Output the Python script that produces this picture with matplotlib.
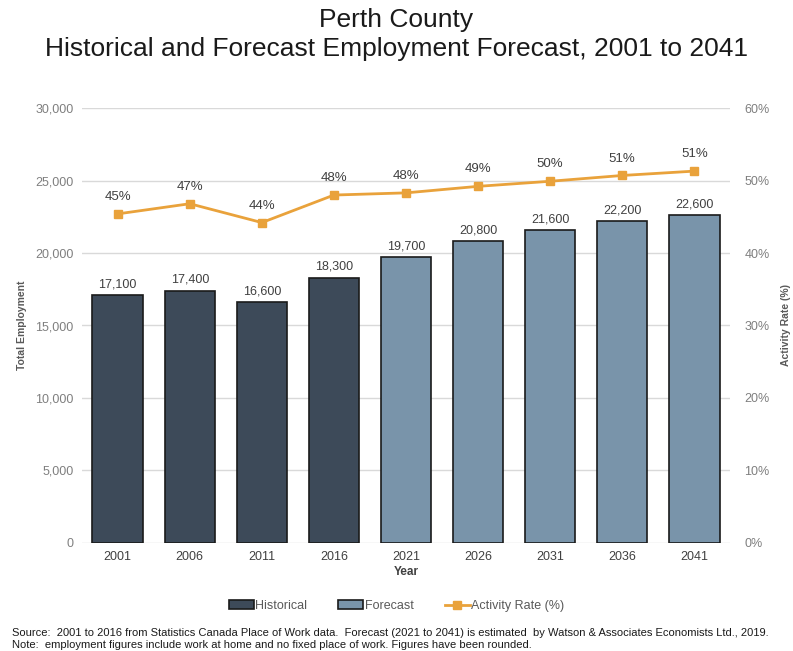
import matplotlib.pyplot as plt
from matplotlib.ticker import FuncFormatter, PercentFormatter
from matplotlib.lines import Line2D
from matplotlib.patches import Patch

plt.rcParams['font.family'] = ['Liberation Sans', 'DejaVu Sans']

# data
years = ['2001', '2006', '2011', '2016', '2021', '2026', '2031', '2036', '2041']
employment = [17100, 17400, 16600, 18300, 19700, 20800, 21600, 22200, 22600]
is_forecast = [False, False, False, False, True, True, True, True, True]
activity_rate = [45.4, 46.8, 44.2, 48.0, 48.3, 49.2, 49.9, 50.7, 51.3]
rate_labels = ['45%', '47%', '44%', '48%', '48%', '49%', '50%', '51%', '51%']

HIST = '#3d4a59'
FCST = '#7994aa'
ORANGE = '#e9a23b'
GREY = '#7f7f7f'

fig = plt.figure(figsize=(7.93, 6.51), dpi=100)
ax = fig.add_axes([0.103, 0.166, 0.818, 0.668])

x = list(range(len(years)))
colors = [FCST if f else HIST for f in is_forecast]
ax.bar(x, employment, width=0.7, color=colors, edgecolor='#1a1a1a', linewidth=1.2, zorder=3)
for xi, v in zip(x, employment):
    ax.text(xi, v + 330, f'{v:,}', ha='center', va='bottom', fontsize=9, color='#404040')

ax.set_xlim(-0.5, len(years) - 0.5)
ax.set_ylim(0, 30000)
ax.set_yticks(range(0, 30001, 5000))
ax.yaxis.set_major_formatter(FuncFormatter(lambda v, p: f'{int(v):,}'))
ax.set_xticks(x)
ax.set_xticklabels(years)
ax.grid(axis='y', color='#d9d9d9', linewidth=1, zorder=0)
for s in ax.spines.values():
    s.set_visible(False)
ax.tick_params(axis='both', length=0, labelsize=9, colors=GREY, pad=6)
ax.tick_params(axis='x', colors='#404040')
ax.set_xlabel('Year', fontsize=8.5, fontweight='bold', color='#404040', labelpad=2)
ax.set_ylabel('Total Employment', fontsize=7.5, fontweight='bold', color='#595959', labelpad=6)

ax2 = ax.twinx()
ax2.plot(x, activity_rate, color=ORANGE, linewidth=2, marker='s', markersize=6, zorder=4)
for xi, v, lab in zip(x, activity_rate, rate_labels):
    ax2.text(xi, v + 1.5, lab, ha='center', va='bottom', fontsize=9.5, color='#404040')
ax2.set_ylim(0, 60)
ax2.set_yticks(range(0, 61, 10))
ax2.yaxis.set_major_formatter(PercentFormatter(decimals=0))
for s in ax2.spines.values():
    s.set_visible(False)
ax2.tick_params(axis='y', length=0, labelsize=9, colors=GREY, pad=10)
ax2.set_ylabel('Activity Rate (%)', fontsize=7.5, fontweight='bold', color='#595959', labelpad=8)

fig.text(0.5, 0.969, 'Perth County', ha='center', va='center', fontsize=19, color='#1a1a1a')
fig.text(0.5, 0.925, 'Historical and Forecast Employment Forecast, 2001 to 2041',
         ha='center', va='center', fontsize=19, color='#1a1a1a')

handles = [Patch(facecolor=HIST, edgecolor='#1a1a1a', linewidth=1.2, label='Historical'),
           Patch(facecolor=FCST, edgecolor='#1a1a1a', linewidth=1.2, label='Forecast'),
           Line2D([0], [0], color=ORANGE, lw=2, marker='s', markersize=6, label='Activity Rate (%)')]
fig.legend(handles=handles, loc='center', bbox_to_anchor=(0.5, 0.069), ncol=3, frameon=False,
           fontsize=9, handlelength=2, handleheight=0.7, handletextpad=0.1, columnspacing=2.5,
           labelcolor='#595959')

fig.text(0.015, 0.028, 'Source:  2001 to 2016 from Statistics Canada Place of Work data.  Forecast (2021 to 2041) is estimated  by Watson & Associates Economists Ltd., 2019.',
         fontsize=8, color='#1a1a1a', va='center')
fig.text(0.015, 0.009, 'Note:  employment figures include work at home and no fixed place of work. Figures have been rounded.',
         fontsize=8, color='#1a1a1a', va='center')

fig.savefig('out.png', dpi=100)
